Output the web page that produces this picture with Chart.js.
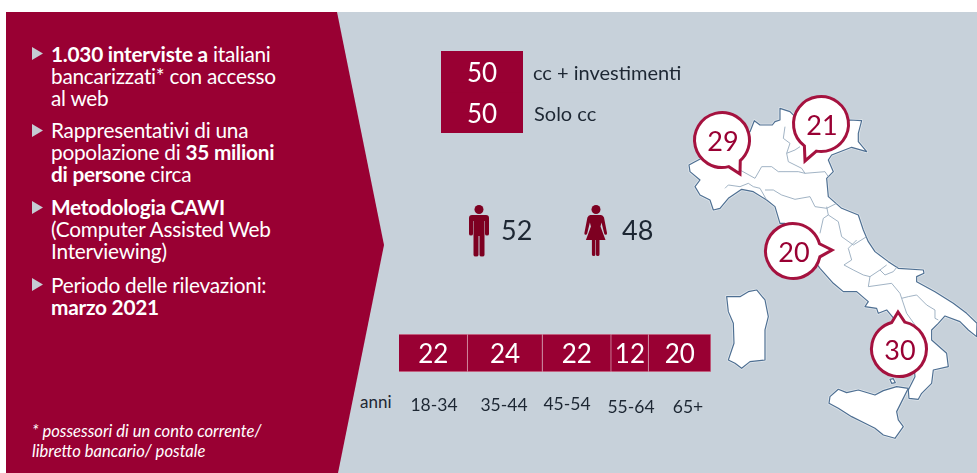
<!DOCTYPE html>
<html>
<head>
<meta charset="utf-8">
<script src="https://cdn.jsdelivr.net/npm/chart.js@4"></script>
<style>
  html, body { margin: 0; background: #fff; }
  #page { position: relative; width: 977px; height: 473px; overflow: hidden; font-family: Lato, sans-serif; }
  #page svg, #page canvas { position: absolute; }
  .t { position: absolute; white-space: nowrap; line-height: 22px; }
  .panel { color: #fff; font-size: 20.800px; letter-spacing: -0.25px; }
  .dark { color: #1d2733; }
</style>
</head>
<body>
<div id="page">
  <svg width="977" height="473" style="left:0;top:0">
    <defs>
      <g id="coast">
        <path d="M87 225L105 215L125 205L170 160L230 140L270 125L283 92L300 105L337 105L345 95L360 90L360 55L390 65L410 85L480 130L570 90L605 92L595 130L595 155L620 185L575 172L515 195L505 210L520 245L500 265L505 320L545 355L595 375L610 420L625 455L645 485L685 515L715 535L790 540L792 550L770 560L770 575L825 605L880 640L920 670L951 700L950 740L925 720L900 695L855 678L835 700L815 720L815 750L860 790L865 830L820 840L815 880L785 910L775 928L747 925L745 900L765 860L760 800L705 690L680 660L655 670L650 655L615 650L625 635L590 605L550 605L520 580L480 535L440 480L375 400L360 400L345 350L320 330L280 305L245 298L205 325L180 355L160 360L150 330L120 315L105 290L120 270L90 245Z"/>
        <path d="M200 620L240 620L265 605L290 600L315 630L325 680L315 720L315 810L270 815L245 835L225 820L205 810L222 760L220 700L205 665Z"/>
        <path d="M510 920L507 940L535 955L575 980L615 1000L645 1015L670 1035L705 1045L730 1010L715 990L710 965L725 935L745 895L710 890L670 902L645 915L595 900L560 908L535 898Z"/>
        <path d="M690 868L700 866L706 878L695 880Z"/>
      </g>
    </defs>
    <rect x="330" y="12" width="647" height="461" fill="#c7d1da"/>
    <polygon points="6,12 337,12 384,245 338,473 6,473" fill="#990033"/>
    <g fill="#c5ccd3">
      <polygon points="32,47 43,53.500 32,60"/>
      <polygon points="32,124 43,130.500 32,137"/>
      <polygon points="32,201 43,207.500 32,214"/>
      <polygon points="32,278 43,284.500 32,291"/>
    </g>
    <!-- man -->
    <g fill="#7d0021">
      <circle cx="479" cy="209.500" r="4.500"/>
      <path d="M472 215h14q3 0 3 3v16q0 1.500-2 1.500t-2-1.500v-13h-.5v34q0 1.500-2.500 1.500t-2.500-1.500v-19h-1v19q0 1.500-2.500 1.500t-2.500-1.500v-34h-.5v13q0 1.500-2 1.500t-2-1.500v-16q0-3 3-3z"/>
      <circle cx="596" cy="209.500" r="4.500"/>
      <path d="M591 215h10q2 0 3 2.500l3 15.500q.3 1.500-1 1.800t-1.800-1.300l-2.700-11-1 4 5 13.500h-6v14.500q0 1.500-1.800 1.500t-1.700-1.500v-14.500h-.6v14.500q0 1.500-1.700 1.500t-1.800-1.500v-14.500h-6l5-13.500-1-4-2.700 11q-.5 1.600-1.800 1.300t-1-1.800l3-15.500q1-2.500 3-2.500z"/>
    </g>
    <!-- italy, traced in 3x units -->
    <g transform="translate(660 90) scale(0.3333)" stroke-linejoin="round">
      <use href="#coast" fill="none" stroke="#e2e8ed" stroke-width="8"/>
      <use href="#coast" fill="#fff" stroke="#4e6f92" stroke-width="3.500"/>
    </g>
    <g transform="translate(660 90) scale(0.3333)" fill="none" stroke="#8ea3b8" stroke-width="2.500" stroke-linejoin="round">
      <path d="M240 240L285 265L305 230L335 230L355 245L375 245L415 245L435 250L495 245L505 260"/>
      <path d="M375 110L370 145L390 160L380 190L405 180L420 170"/>
      <path d="M380 190L385 215L425 235L435 250"/>
      <path d="M195 295L205 285L240 290L265 280L280 290L300 295L320 330"/>
      <path d="M315 300L340 300L365 315L405 328L450 320L465 350L500 355L530 340"/>
      <path d="M500 350L505 375L490 385L480 430"/>
      <path d="M505 375L535 395L545 440L580 465L620 440"/>
      <path d="M590 450L565 475L575 510L552 525L580 540L610 555L630 560L660 540L680 525"/>
      <path d="M630 560L625 590L695 580L720 610L725 625L745 620"/>
      <path d="M660 540L675 555L700 545L712 530"/>
      <path d="M725 625L740 670L765 705"/>
      <path d="M745 620L770 615L800 645L825 660L825 685L835 690"/>
    </g>
  </svg>

  <div class="t panel" style="left:51px;top:43px"><b>1.030 interviste a</b> italiani<br>bancarizzati* con accesso<br>al web</div>
  <div class="t panel" style="left:51px;top:119px">Rappresentativi di una<br>popolazione di <b>35 milioni</b><br><b>di persone</b> circa</div>
  <div class="t panel" style="left:51px;top:196px"><b>Metodologia CAWI</b><br>(Computer Assisted Web<br>Interviewing)</div>
  <div class="t panel" style="left:51px;top:274px">Periodo delle rilevazioni:<br><b>marzo 2021</b></div>
  <div class="t" style="left:32px;top:421px;color:#fff;font-style:italic;font-size:16.600px;line-height:20px">* possessori di un conto corrente/<br>libretto bancario/ postale</div>
  <div class="t dark" style="left:360px;top:391px;font-size:17px">anni</div>

  <canvas id="shareChart" width="82" height="82" style="left:441px;top:51px"></canvas>
  <canvas id="ageChart" width="312" height="38" style="left:399px;top:334px"></canvas>
  <canvas id="areaChart" width="977" height="473" style="left:0;top:0"></canvas>
</div>

<script>
const shareLabels = ["cc + investimenti", "Solo cc"];
const shareValues = [50, 50];
const genderValues = [52, 48];
const ageLabels = ["18-34", "35-44", "45-54", "55-64", "65+"];
const ageValues = [22, 24, 22, 12, 20];
const areaValues = [29, 21, 20, 30];

// layout only, not data
const crimson = "#990033";
const areaAnchors = [[722, 140], [821, 124], [793, 251], [899, 349]];
const areaTails = [[740, 174], [805, 161], [832, 250], [898, 312]];
const areaRadius = 27.5;
const sharePos = [[533, 61], [534, 102]];
const genderPos = [[501, 216], [622, 216]];
const ageX = [434, 504, 567, 631, 688];
const ageY = [394, 394, 393, 396, 396];

const page = document.getElementById("page");
function addText(text, x, y, size, center) {
  const d = document.createElement("div");
  d.className = "t dark";
  d.textContent = text;
  d.style.left = x + "px";
  d.style.top = y + "px";
  d.style.fontSize = size + "px";
  if (size > 25) d.style.lineHeight = "28px";
  if (center) d.style.transform = "translateX(-50%)";
  page.appendChild(d);
}
shareLabels.forEach((s, i) => addText(s, sharePos[i][0], sharePos[i][1], 20));
genderValues.forEach((v, i) => addText(String(v), genderPos[i][0], genderPos[i][1], 27));
ageLabels.forEach((s, i) => addText(s, ageX[i], ageY[i], 17.5, true));

// writes each segment's value in its middle
const barValues = {
  id: "barValues",
  afterDatasetsDraw(chart) {
    const { ctx } = chart;
    ctx.save();
    ctx.fillStyle = "#fff";
    ctx.font = "26px Lato";
    ctx.textAlign = "center";
    ctx.textBaseline = "middle";
    chart.data.datasets.forEach((ds, i) => {
      const p = chart.getDatasetMeta(i).data[0].getCenterPoint();
      ctx.fillText(ds.data[0], p.x, p.y + 2);
    });
    ctx.restore();
  },
};

function stackedBar(id, horizontal, labels, values, border) {
  new Chart(document.getElementById(id), {
    type: "bar",
    data: {
      labels: [""],
      datasets: values.map((v, i) => ({
        label: labels[i],
        data: [v],
        backgroundColor: crimson,
        borderColor: border,
        borderWidth: border === crimson ? 0 : 1,
        barPercentage: 1,
        categoryPercentage: 1,
      })),
    },
    options: {
      responsive: false,
      animation: false,
      indexAxis: horizontal ? "y" : "x",
      layout: { padding: 0 },
      plugins: { legend: { display: false }, tooltip: { enabled: false } },
      scales: {
        x: { stacked: true, display: false, min: horizontal ? 0 : undefined, max: horizontal ? 100 : undefined },
        y: { stacked: true, display: false, reverse: !horizontal, min: horizontal ? undefined : 0, max: horizontal ? undefined : 100 },
      },
    },
    plugins: [barValues],
  });
}
stackedBar("shareChart", false, shareLabels, shareValues, crimson);
stackedBar("ageChart", true, ageLabels, ageValues, "#cf7f98");

// callouts on the map
const callouts = {
  id: "callouts",
  afterDatasetsDraw(chart) {
    const { ctx } = chart;
    const meta = chart.getDatasetMeta(0);
    ctx.save();
    meta.data.forEach((pt, i) => {
      const tail = areaTails[i];
      const a = Math.atan2(tail[1] - pt.y, tail[0] - pt.x);
      const spread = 0.24;
      ctx.beginPath();
      ctx.arc(pt.x, pt.y, areaRadius, a + spread, a - spread + Math.PI * 2);
      ctx.lineTo(tail[0], tail[1]);
      ctx.closePath();
      ctx.fillStyle = "#fff";
      ctx.fill();
      ctx.lineWidth = 3;
      ctx.strokeStyle = "#a5123f";
      ctx.stroke();
      ctx.fillStyle = crimson;
      ctx.font = "27px Lato";
      ctx.textAlign = "center";
      ctx.textBaseline = "middle";
      ctx.fillText(areaValues[i], pt.x + 1, pt.y + 2);
    });
    ctx.restore();
  },
};

new Chart(document.getElementById("areaChart"), {
  type: "scatter",
  data: {
    datasets: [{
      data: areaAnchors.map((p) => ({ x: p[0], y: p[1] })),
      pointRadius: 0,
    }],
  },
  options: {
    responsive: false,
    animation: false,
    layout: { padding: 0 },
    plugins: { legend: { display: false }, tooltip: { enabled: false } },
    scales: {
      x: { type: "linear", display: false, min: 0, max: 977 },
      y: { type: "linear", display: false, reverse: true, min: 0, max: 473 },
    },
  },
  plugins: [callouts],
});
</script>
</body>
</html>
